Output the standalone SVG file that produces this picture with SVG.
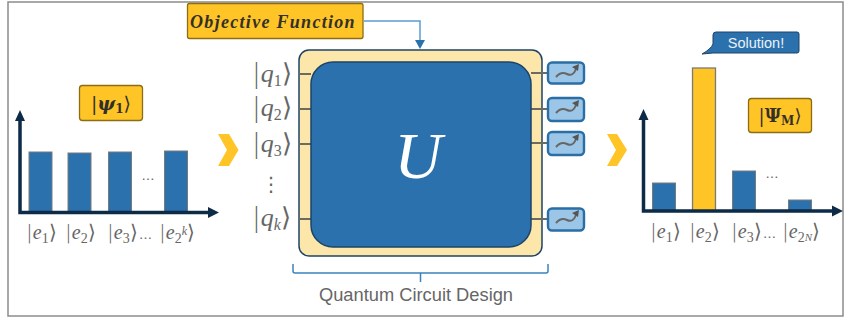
<svg xmlns="http://www.w3.org/2000/svg" width="845" height="320" viewBox="0 0 845 320">
<style>
.m{font-family:"Liberation Serif",serif;font-style:italic;fill:#666}
.u{font-family:"DejaVu Sans",sans-serif;font-style:normal;font-weight:300}
.d{font-family:"Liberation Serif",serif;font-style:normal}
.k{font-family:"DejaVu Sans","Liberation Sans",sans-serif;fill:#666}
.e{font-size:20px}.s{font-size:14px}
.q{font-size:26px}.qs{font-size:16px}
.bar{fill:#2a71ae;stroke:#7a7a7a;stroke-width:1}
.yb{fill:#ffc425;stroke:#8a6d14;stroke-width:1.3}
.ax{stroke:#0d2a47;stroke-width:3.5;fill:none}
.axh{fill:#0d2a47}
.w{stroke:#6b6b5e;stroke-width:2;fill:none}
.mb{fill:#9cc6e8;stroke:#2a6ea6;stroke-width:2.4}
.mg{stroke:#666;stroke-width:2;fill:none}
.mh{fill:#555}
.ch{fill:#ffc425}
</style>
<rect width="845" height="320" fill="#fff"/>
<rect id="frame" x="8" y="2" width="835" height="314" fill="none" stroke="#8c8c8c" stroke-width="1.500"/>
<g id="objective"><rect class="yb" x="187.500" y="3.500" width="175.500" height="35" rx="2"/>
<text x="273" y="28" text-anchor="middle" style="font-family:'Liberation Serif',serif;font-style:italic;font-weight:700;font-size:18px;letter-spacing:1.300px;fill:#33302a">Objective Function</text></g>
<g id="connectors">
<path d="M364 21H420V42" fill="none" stroke="#5b9ccf" stroke-width="1.500"/>
<path d="M415 40H425L420 49Z" fill="#2a71ae"/>
<path d="M293 264V271Q293 273 295 273H546Q548 273 548 271V264M420.500 273V282" fill="none" stroke="#3b82bd" stroke-width="1.500"/>
</g>
<g id="circuit">
<rect x="299" y="50" width="243" height="206" rx="10" fill="#fde6aa" stroke="#1d4468" stroke-width="1.500"/>
<path class="w" d="M299 74H311M299 109H311M299 144H311M299 219H311M531 73H548M531 109H548M531 143H548M531 219H548"/>
<rect x="311" y="62" width="220" height="185" rx="22" fill="#2a71ae" stroke="#1d4468" stroke-width="1.500"/>
<text x="418" y="178" text-anchor="middle" style="font-family:'Liberation Serif',serif;font-style:italic;font-size:66px;fill:#fff">U</text>
</g>
<g id="qubits">
<text class="m q" x="252" y="82"><tspan class="u">|</tspan>q<tspan class="d qs" dy="4">1</tspan><tspan class="u" dy="-4">⟩</tspan></text>
<text class="m q" x="252" y="116"><tspan class="u">|</tspan>q<tspan class="d qs" dy="4">2</tspan><tspan class="u" dy="-4">⟩</tspan></text>
<text class="m q" x="252" y="152"><tspan class="u">|</tspan>q<tspan class="d qs" dy="4">3</tspan><tspan class="u" dy="-4">⟩</tspan></text>
<text class="k" x="271" y="191" text-anchor="middle" style="font-size:20px">⋮</text>
<text class="m q" x="252" y="226"><tspan class="u">|</tspan>q<tspan class="qs" dy="4">k</tspan><tspan class="u" dy="-4">⟩</tspan></text>
</g>
<g id="meters">
<g id="m1"><rect class="mb" x="548" y="62.500" width="36" height="21" rx="4"/><path class="mg" d="M556 77Q561 71 567 74T576 69"/><path class="mh" d="M572 67L579 64L578 71Z"/></g>
<g id="m2"><rect class="mb" x="548" y="98" width="36" height="23" rx="4"/><path class="mg" d="M556 113Q561 107 567 110T576 105"/><path class="mh" d="M572 103L579 100L578 107Z"/></g>
<g id="m3"><rect class="mb" x="548" y="132" width="36" height="23" rx="4"/><path class="mg" d="M556 147Q561 141 567 144T576 139"/><path class="mh" d="M572 137L579 134L578 141Z"/></g>
<g id="m4"><rect class="mb" x="548" y="208.500" width="36" height="22" rx="4"/><path class="mg" d="M556 223Q561 217 567 220T576 215"/><path class="mh" d="M572 213L579 210L578 217Z"/></g>
</g>
<g id="left-chart">
<rect class="bar" x="29" y="152" width="23" height="60"/><rect class="bar" x="68" y="153" width="23" height="59"/><rect class="bar" x="108.500" y="152" width="23" height="60"/><rect class="bar" x="164.500" y="151" width="23" height="61"/>
<path class="ax" d="M20 118V212.500H210"/><path class="axh" d="M15 121L20 110L25 121ZM208 207L219 212.500L208 218Z"/>
<text class="k" x="148" y="180" text-anchor="middle" style="font-size:13px">…</text>
<text class="m e" x="26" y="239"><tspan class="u">|</tspan>e<tspan class="d s" dy="4">1</tspan><tspan class="u" dy="-4">⟩</tspan></text>
<text class="m e" x="65" y="239"><tspan class="u">|</tspan>e<tspan class="d s" dy="4">2</tspan><tspan class="u" dy="-4">⟩</tspan></text>
<text class="m e" x="107" y="239"><tspan class="u">|</tspan>e<tspan class="d s" dy="4">3</tspan><tspan class="u" dy="-4">⟩</tspan></text>
<text class="k" x="139" y="239" style="font-size:13px">…</text>
<text class="m e" x="159" y="239"><tspan class="u">|</tspan>e<tspan class="d s" dy="4">2</tspan><tspan style="font-size:12px" dy="-8">k</tspan><tspan class="u" dy="4">⟩</tspan></text>
</g>
<g id="psi1"><rect class="yb" x="79.500" y="85.500" width="63" height="35" rx="3"/>
<text x="111" y="110" text-anchor="middle" style="font-family:'DejaVu Serif','Liberation Serif',serif;font-size:19px;fill:#33302a">|<tspan font-weight="700" font-style="italic">ψ</tspan><tspan font-weight="700" font-size="12" dy="3">1</tspan><tspan dy="-3">⟩</tspan></text></g>
<polygon id="chevron-left" class="ch" points="218,134 229,134 238.500,150 229,166 218,166 227,150"/>
<polygon id="chevron-right" class="ch" points="607,134 617,134 627,150 617,166 607,166 616,150"/>
<g id="right-chart">
<rect class="bar" x="652.500" y="183" width="23" height="28"/>
<rect x="692.500" y="68" width="23" height="143" fill="#ffc425" stroke="#7a7a7a" stroke-width="1.300"/>
<rect class="bar" x="732.500" y="171" width="23" height="40"/>
<rect class="bar" x="788.500" y="200" width="23" height="11"/>
<path class="ax" d="M643.500 116V211H834"/><path class="axh" d="M638.500 120L643.500 109L648.500 120ZM832 205.500L843 211L832 216.500Z"/>
<text class="k" x="772" y="178" text-anchor="middle" style="font-size:13px">…</text>
<text class="m e" x="650" y="238"><tspan class="u">|</tspan>e<tspan class="d s" dy="4">1</tspan><tspan class="u" dy="-4">⟩</tspan></text>
<text class="m e" x="689" y="238"><tspan class="u">|</tspan>e<tspan class="d s" dy="4">2</tspan><tspan class="u" dy="-4">⟩</tspan></text>
<text class="m e" x="731" y="238"><tspan class="u">|</tspan>e<tspan class="d s" dy="4">3</tspan><tspan class="u" dy="-4">⟩</tspan></text>
<text class="k" x="763" y="238" style="font-size:13px">…</text>
<text class="m e" x="782" y="238"><tspan class="u">|</tspan>e<tspan class="d s" dy="4">2</tspan><tspan style="font-size:11px" dy="-1">N</tspan><tspan class="u" dy="-3">⟩</tspan></text>
</g>
<g id="psiM"><rect class="yb" x="748.500" y="98.500" width="63" height="34" rx="3"/>
<text x="780" y="122" text-anchor="middle" style="font-family:'DejaVu Serif','Liberation Serif',serif;font-size:18px;fill:#33302a">|<tspan font-weight="700">Ψ</tspan><tspan font-weight="700" font-size="12" dy="3">M</tspan><tspan dy="-3">⟩</tspan></text></g>
<g id="solution"><path d="M716 32H797Q799 32 799 34V51Q799 53 797 53H713L702 54Q711 49 713 44V35Q713 32 716 32Z" fill="#2a71ae" stroke="#1d4468" stroke-width="1"/>
<text x="756" y="47.500" text-anchor="middle" style="font-family:'Liberation Sans',sans-serif;font-size:14.500px;fill:#eaf2f8">Solution!</text></g>
<text id="caption" x="416" y="301" text-anchor="middle" style="font-family:'Liberation Sans',sans-serif;font-size:18.300px;fill:#666">Quantum Circuit Design</text>
</svg>
